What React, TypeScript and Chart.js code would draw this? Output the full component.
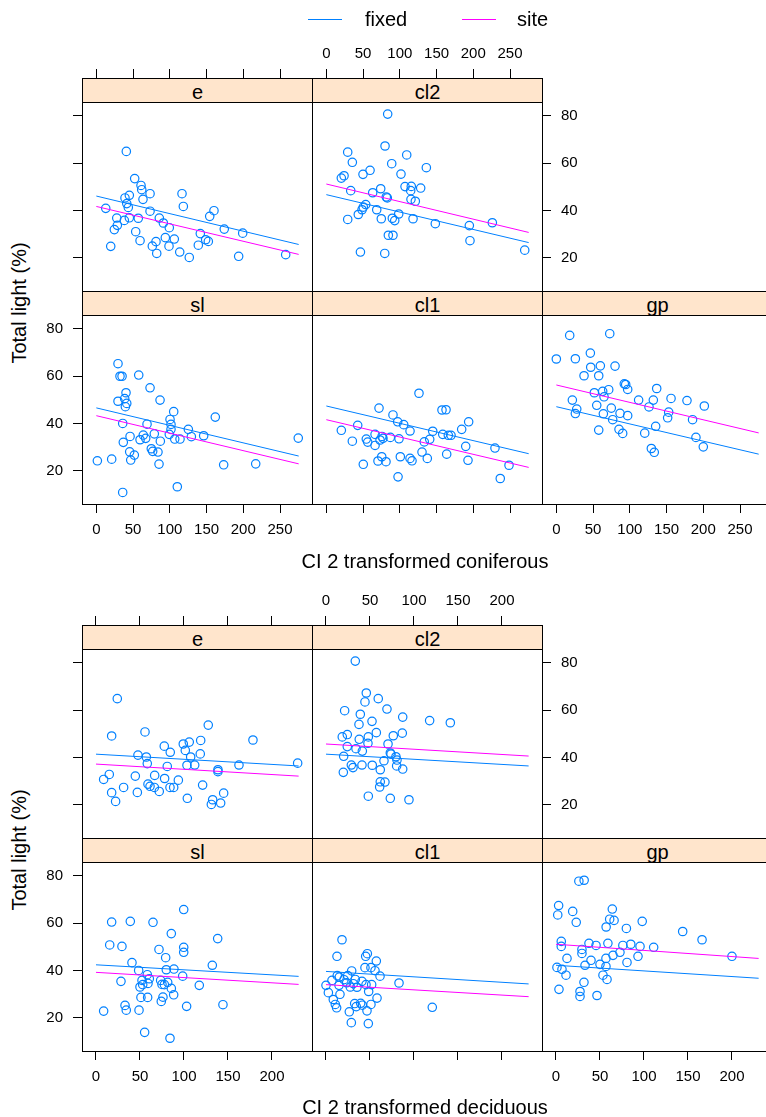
import React, { useEffect, useRef } from "react";
import { Chart, registerables } from "chart.js";

Chart.register(...registerables);

const FONT = '"Liberation Sans", Arial, Helvetica, sans-serif';
const POINT_BLUE = "#0080ff";
const SITE_PINK = "#ff00ff";
const STRIP_BG = "#ffe5cc";

type Pair = [number, number];
type AxisMode = "none" | "ticks" | "labels";

// ---------- axis values ----------
const totalLightTicks = [20, 40, 60, 80];
const coniferTicks = [0, 50, 100, 150, 200, 250];
const deciduousTicks = [0, 50, 100, 150, 200];
const panelNames = ["e", "cl2", "sl", "cl1", "gp"];

// ---------- fitted lines (start/end value per panel, order as panelNames) ----------
const coniferLineX = [0, 275.4];
const coniferFixedStart = [46.1, 46.7, 46.6, 47.4, 47.1];
const coniferFixedEnd = [25.6, 26.4, 26.2, 27.2, 27.0];
const coniferSiteStart = [41.7, 51.2, 43.3, 41.6, 56.3];
const coniferSiteEnd = [21.4, 30.7, 22.9, 21.4, 36.0];

const deciduousLineX = [0, 230.3];
const deciduousFixedStart = [41.4, 41.4, 42.4, 39.6, 42.2];
const deciduousFixedEnd = [36.4, 36.4, 37.5, 34.3, 36.7];
const deciduousSiteStart = [37.2, 45.7, 39.2, 34.0, 51.1];
const deciduousSiteEnd = [32.1, 40.6, 34.1, 28.9, 45.1];

// ---------- observations: CI 2 transformed coniferous vs total light ----------
const coniferE: Pair[] = [
  [40.8, 65.0], [52.2, 53.5], [60.8, 50.6], [61.8, 48.8], [73.1, 47.1], [44.9, 46.4],
  [39.0, 45.3], [63.5, 44.7], [116.6, 47.1], [41.4, 42.9], [43.5, 41.3], [12.8, 40.9],
  [118.4, 41.7], [73.1, 39.7], [160.1, 39.9], [154.3, 37.5], [44.9, 36.9], [27.8, 36.8],
  [38.1, 35.8], [57.1, 36.7], [85.7, 36.8], [91.2, 34.7], [99.3, 32.7], [28.6, 33.7],
  [24.5, 31.9], [53.6, 31.0], [174.1, 32.1], [199.2, 30.4], [141.5, 30.2], [93.9, 28.5],
  [106.1, 27.9], [59.5, 27.2], [148.8, 27.6], [152.4, 26.9], [81.2, 26.8], [19.6, 24.8],
  [76.2, 24.9], [98.9, 24.9], [138.8, 25.3], [82.2, 21.8], [113.5, 22.4], [126.5, 20.1],
  [193.7, 20.6], [257.7, 21.3],
];
const coniferCl2: Pair[] = [
  [83.5, 80.8], [79.9, 67.3], [29.1, 64.7], [109.4, 63.5], [35.4, 60.4], [89.0, 59.8],
  [136.1, 58.1], [59.5, 57.0], [49.9, 55.3], [101.6, 55.4], [24.1, 54.7], [20.4, 53.7],
  [74.0, 49.2], [107.1, 50.1], [115.6, 50.2], [128.4, 49.5], [114.8, 48.4], [33.2, 48.4],
  [63.1, 47.5], [81.6, 45.7], [83.0, 45.3], [115.2, 44.7], [121.1, 43.9], [53.6, 42.5],
  [50.3, 41.4], [48.6, 40.3], [68.6, 40.3], [43.5, 38.3], [98.5, 38.5], [74.8, 36.5],
  [89.8, 36.7], [93.1, 35.7], [118.0, 36.5], [29.1, 36.2], [148.3, 34.4], [194.6, 33.6],
  [225.9, 34.8], [84.4, 29.5], [90.7, 29.5], [195.5, 27.2], [46.4, 22.4], [79.5, 21.8],
  [270.0, 23.2],
];
const coniferSl: Pair[] = [
  [29.5, 65.3], [32.2, 60.0], [35.0, 60.0], [57.7, 60.5], [73.1, 55.1], [40.4, 53.0],
  [38.6, 50.5], [29.5, 49.4], [86.7, 49.9], [41.4, 48.5], [39.5, 47.1], [105.3, 45.0],
  [161.9, 42.7], [100.3, 41.7], [35.9, 40.0], [69.0, 39.7], [101.6, 39.6], [101.6, 37.5],
  [125.2, 37.5], [78.9, 35.6], [99.3, 35.4], [45.9, 34.5], [63.9, 35.1], [146.1, 34.8],
  [129.3, 34.4], [274.8, 33.8], [67.2, 33.7], [59.5, 33.1], [106.7, 33.4], [113.9, 33.4],
  [36.7, 32.0], [87.1, 32.5], [74.8, 29.3], [76.7, 28.2], [83.9, 27.9], [45.4, 28.0],
  [51.7, 26.6], [46.8, 24.5], [1.4, 24.2], [20.9, 24.9], [85.3, 22.8], [173.3, 22.5],
  [216.9, 22.9], [110.2, 13.2], [35.9, 10.8],
];
const coniferCl1: Pair[] = [
  [126.1, 52.8], [71.7, 46.5], [157.4, 45.7], [162.9, 45.8], [90.7, 43.6], [193.7, 40.7],
  [97.1, 40.7], [105.3, 39.5], [42.7, 39.2], [184.2, 37.5], [20.4, 37.1], [113.9, 36.8],
  [144.8, 36.7], [158.4, 35.4], [169.7, 35.0], [166.0, 35.0], [66.3, 35.4], [75.8, 34.5],
  [87.1, 34.1], [77.1, 33.7], [98.9, 33.5], [54.4, 33.4], [73.1, 33.0], [140.7, 33.3],
  [35.4, 32.5], [56.3, 32.1], [133.3, 32.2], [66.3, 30.7], [189.7, 30.3], [229.5, 29.6],
  [130.2, 27.9], [163.8, 27.0], [75.4, 25.9], [100.7, 25.9], [113.9, 25.2], [137.4, 25.2],
  [116.6, 24.2], [70.3, 24.1], [81.2, 23.8], [192.8, 24.4], [50.3, 22.7], [248.6, 22.3],
  [97.6, 17.4], [236.7, 16.7],
];
const coniferGp: Pair[] = [
  [18.2, 77.3], [72.7, 78.0], [0.0, 67.3], [25.9, 67.4], [46.3, 69.8], [46.8, 63.8],
  [59.9, 64.4], [79.9, 64.3], [37.7, 60.2], [57.7, 60.2], [92.5, 56.8], [94.4, 56.5],
  [97.1, 54.4], [136.6, 54.8], [71.3, 54.3], [63.1, 53.6], [51.7, 53.0], [64.9, 51.3],
  [156.1, 50.6], [177.8, 49.7], [112.0, 49.9], [132.0, 49.9], [21.8, 49.9], [55.0, 47.7],
  [201.4, 47.4], [126.1, 47.0], [74.8, 46.5], [27.8, 46.1], [25.9, 44.2], [152.9, 44.8],
  [86.7, 44.3], [64.0, 44.1], [97.1, 43.3], [151.5, 42.4], [76.7, 41.6], [185.4, 41.6],
  [135.2, 38.8], [57.7, 37.2], [85.3, 37.5], [90.3, 35.8], [120.3, 35.9], [190.0, 34.1],
  [200.0, 30.1], [129.3, 29.4], [133.3, 27.8],
];

// ---------- observations: CI 2 transformed deciduous vs total light ----------
const deciduousE: Pair[] = [
  [24.2, 64.9], [127.6, 53.7], [55.7, 50.8], [17.8, 49.1], [178.4, 47.4], [119.0, 47.2],
  [106.0, 46.5], [99.2, 45.7], [77.6, 44.8], [101.5, 43.0], [84.4, 42.2], [118.5, 41.5],
  [47.7, 41.0], [57.2, 40.2], [107.6, 40.2], [58.3, 37.4], [229.2, 37.6], [162.5, 36.8],
  [103.4, 36.7], [112.2, 36.8], [81.0, 36.2], [138.6, 34.8], [138.6, 34.0], [15.1, 32.8],
  [8.7, 30.7], [44.7, 32.1], [66.7, 32.4], [78.0, 31.1], [93.6, 30.4], [59.1, 28.7],
  [61.4, 27.8], [66.3, 27.3], [71.9, 25.6], [84.1, 27.3], [88.3, 27.3], [31.4, 27.3],
  [121.2, 28.3], [17.8, 25.1], [47.0, 25.2], [145.1, 24.9], [22.3, 21.4], [103.8, 22.7],
  [132.6, 22.1], [131.1, 20.1], [141.7, 20.7],
];
const deciduousCl2: Pair[] = [
  [33.3, 80.8], [45.8, 67.3], [44.3, 63.5], [59.4, 64.9], [21.2, 59.8], [69.3, 60.5],
  [39.0, 58.3], [87.2, 57.1], [117.8, 55.6], [141.3, 54.7], [52.3, 55.3], [37.5, 54.0],
  [57.2, 50.5], [86.7, 50.3], [76.5, 49.2], [24.2, 49.7], [18.5, 48.7], [48.1, 48.7],
  [37.8, 47.7], [47.7, 46.0], [70.5, 45.7], [24.2, 44.6], [34.1, 43.7], [41.3, 42.7],
  [73.1, 41.9], [73.9, 41.4], [20.1, 40.5], [79.5, 40.3], [65.9, 38.6], [80.7, 38.9],
  [28.8, 36.8], [40.9, 36.8], [52.6, 36.7], [80.3, 36.4], [30.7, 35.7], [61.7, 34.8],
  [87.2, 35.1], [19.7, 33.7], [61.7, 29.7], [67.0, 29.6], [61.0, 27.5], [48.1, 23.6],
  [73.1, 22.7], [94.3, 22.1],
];
const deciduousSl: Pair[] = [
  [99.7, 65.8], [17.8, 60.5], [39.0, 60.8], [64.8, 60.4], [85.6, 55.6], [138.3, 53.5],
  [15.6, 50.8], [29.5, 50.2], [71.6, 48.9], [99.7, 49.8], [99.7, 47.7], [79.2, 45.4],
  [132.2, 42.2], [40.9, 43.3], [48.5, 40.0], [79.9, 40.3], [88.6, 40.6], [58.3, 38.2],
  [98.5, 37.6], [28.4, 35.4], [52.3, 35.8], [60.6, 36.5], [73.5, 35.8], [59.1, 34.5],
  [53.1, 34.0], [75.0, 34.1], [81.5, 35.0], [77.7, 34.0], [50.0, 33.0], [117.4, 33.7],
  [85.6, 32.4], [88.3, 29.7], [51.1, 28.6], [58.7, 28.6], [76.1, 28.7], [74.2, 26.9],
  [33.0, 25.2], [34.4, 23.2], [8.7, 22.8], [48.9, 23.2], [103.0, 24.8], [144.3, 25.5],
  [55.3, 13.8], [84.1, 11.3],
];
const deciduousCl1: Pair[] = [
  [18.2, 53.0], [12.5, 46.0], [47.0, 47.1], [45.1, 46.0], [57.2, 44.0], [44.3, 41.2],
  [51.1, 41.2], [55.7, 39.9], [29.2, 39.8], [61.4, 37.6], [24.7, 37.8], [12.8, 37.8],
  [15.1, 37.2], [20.5, 36.1], [6.8, 35.8], [33.3, 36.2], [40.9, 35.4], [23.5, 34.8],
  [83.0, 34.7], [0.0, 33.7], [14.8, 33.7], [27.6, 33.0], [31.0, 34.4], [35.2, 32.9],
  [45.5, 34.0], [51.9, 34.0], [48.5, 31.1], [2.7, 30.6], [15.9, 29.9], [58.0, 28.3],
  [8.3, 27.7], [10.6, 25.6], [12.1, 24.2], [32.6, 26.0], [39.4, 26.1], [34.4, 24.7],
  [41.3, 25.3], [51.1, 25.6], [26.5, 22.5], [46.6, 22.9], [120.8, 24.4], [28.8, 17.9],
  [48.1, 17.5],
];
const deciduousGp: Pair[] = [
  [26.0, 77.8], [32.0, 78.2], [3.0, 67.5], [64.0, 66.0], [2.0, 63.5], [19.0, 65.0],
  [61.0, 61.7], [23.0, 60.4], [57.0, 58.4], [66.0, 61.2], [80.0, 57.8], [98.0, 60.8],
  [144.0, 56.5], [166.0, 53.0], [6.0, 52.3], [6.0, 50.2], [37.5, 51.5], [45.5, 50.6],
  [59.0, 51.5], [76.0, 50.6], [85.0, 51.1], [95.5, 50.2], [111.0, 49.8], [29.5, 47.2],
  [72.7, 47.7], [29.5, 48.9], [12.5, 45.1], [39.8, 44.3], [56.8, 45.1], [64.8, 46.4],
  [93.2, 46.0], [50.0, 42.6], [80.7, 43.4], [1.1, 41.3], [6.8, 40.5], [33.0, 42.2],
  [56.8, 41.7], [11.4, 38.0], [53.4, 38.0], [58.0, 36.2], [31.8, 35.0], [3.4, 32.0],
  [27.3, 31.1], [27.3, 29.0], [46.6, 29.4], [200.0, 46.0],
];

// ---------- layout ----------
const M = 50; // margin around each plotting region reserved for axes
const PANEL_W = 230;
const PANEL_H = 213; // strip + plotting region
const STRIP_H = 24;
const COL_LEFT = [82, 312, 542];
const Y_MIN = 5.9;
const Y_MAX = 96.09;
const TICK_FONT = 15;

const panelGrid = [
  { row: 0, col: 0, axes: { left: "ticks", top: "ticks", right: "none", bottom: "none" } },
  { row: 0, col: 1, axes: { left: "none", top: "labels", right: "labels", bottom: "none" } },
  { row: 1, col: 0, axes: { left: "labels", top: "none", right: "none", bottom: "labels" } },
  { row: 1, col: 1, axes: { left: "none", top: "none", right: "none", bottom: "ticks" } },
  { row: 1, col: 2, axes: { left: "none", top: "none", right: "ticks", bottom: "labels" } },
] as { row: number; col: number; axes: Record<string, AxisMode> }[];

const figures = [
  {
    key: "conifer",
    rowTops: [78, 291],
    xMin: -19.5,
    xMax: 293.5,
    xTicks: coniferTicks,
    lineX: coniferLineX,
    points: [coniferE, coniferCl2, coniferSl, coniferCl1, coniferGp],
    fixedStart: coniferFixedStart,
    fixedEnd: coniferFixedEnd,
    siteStart: coniferSiteStart,
    siteEnd: coniferSiteEnd,
    xLabel: "CI 2 transformed coniferous",
    xLabelBaseline: 568,
    yLabelCenter: 303,
  },
  {
    key: "deciduous",
    rowTops: [625, 838],
    xMin: -15.9,
    xMax: 245.5,
    xTicks: deciduousTicks,
    lineX: deciduousLineX,
    points: [deciduousE, deciduousCl2, deciduousSl, deciduousCl1, deciduousGp],
    fixedStart: deciduousFixedStart,
    fixedEnd: deciduousFixedEnd,
    siteStart: deciduousSiteStart,
    siteEnd: deciduousSiteEnd,
    xLabel: "CI 2 transformed deciduous",
    xLabelBaseline: 1114,
    yLabelCenter: 850,
  },
];

interface PanelProps {
  left: number;
  top: number;
  xMin: number;
  xMax: number;
  xTicks: number[];
  lineX: number[];
  points: Pair[];
  fixed: number[];
  site: number[];
  axes: Record<string, AxisMode>;
}

function makeAxis(
  mode: AxisMode,
  position: "top" | "bottom" | "left" | "right",
  min: number,
  max: number,
  values: number[],
  padding: number
) {
  const horizontal = position === "top" || position === "bottom";
  return {
    type: "linear" as const,
    position,
    min,
    max,
    afterBuildTicks: (scale: any) => {
      scale.ticks = values.map((v) => ({ value: v }));
    },
    afterFit: (scale: any) => {
      if (horizontal) scale.height = M;
      else scale.width = M;
    },
    grid: {
      display: true,
      drawOnChartArea: false,
      drawTicks: mode !== "none",
      tickLength: 9,
      tickColor: "#000",
      tickWidth: 1,
      color: "#000",
    },
    border: { display: true, color: "#000", width: 1 },
    ticks: {
      display: mode === "labels",
      color: "#000",
      font: { family: FONT, size: TICK_FONT },
      padding,
      autoSkip: false,
      maxRotation: 0,
      minRotation: 0,
    },
  };
}

function PanelChart(props: PanelProps) {
  const ref = useRef<HTMLCanvasElement | null>(null);
  useEffect(() => {
    if (!ref.current) return;
    const { xMin, xMax, xTicks, lineX, points, fixed, site, axes } = props;
    const chart = new Chart(ref.current, {
      type: "scatter",
      data: {
        datasets: [
          {
            label: "fixed",
            data: [
              { x: lineX[0], y: fixed[0] },
              { x: lineX[1], y: fixed[1] },
            ],
            showLine: true,
            borderColor: POINT_BLUE,
            borderWidth: 1,
            pointRadius: 0,
            fill: false,
          },
          {
            label: "site",
            data: [
              { x: lineX[0], y: site[0] },
              { x: lineX[1], y: site[1] },
            ],
            showLine: true,
            borderColor: SITE_PINK,
            borderWidth: 1,
            pointRadius: 0,
            fill: false,
          },
          {
            label: "observed",
            data: points.map(([x, y]) => ({ x, y })),
            showLine: false,
            pointRadius: 4.2,
            pointStyle: "circle",
            borderColor: POINT_BLUE,
            backgroundColor: "rgba(0,0,0,0)",
            borderWidth: 1.2,
          },
        ],
      },
      options: {
        animation: false,
        responsive: false,
        events: [],
        layout: { padding: 0 },
        plugins: {
          legend: { display: false },
          tooltip: { enabled: false },
          title: { display: false },
        },
        scales: {
          x: makeAxis(axes.bottom, "bottom", xMin, xMax, xTicks, 8),
          x2: makeAxis(axes.top, "top", xMin, xMax, xTicks, 6),
          y: makeAxis(axes.left, "left", Y_MIN, Y_MAX, totalLightTicks, 10),
          y2: makeAxis(axes.right, "right", Y_MIN, Y_MAX, totalLightTicks, 10),
        },
      } as any,
    });
    return () => chart.destroy();
  }, []);
  return (
    <canvas
      ref={ref}
      width={PANEL_W + 2 * M}
      height={PANEL_H + 2 * M}
      style={{ position: "absolute", left: props.left - M, top: props.top - M }}
    />
  );
}

const textBase: React.CSSProperties = {
  position: "absolute",
  fontFamily: FONT,
  fontSize: 20,
  lineHeight: "22px",
  color: "#000",
  whiteSpace: "nowrap",
};

export default function App() {
  return (
    <div
      style={{
        position: "absolute",
        left: 0,
        top: 0,
        width: 766,
        height: 1117,
        overflow: "hidden",
        background: "#fff",
      }}
    >
      {figures.map((fig) =>
        panelGrid.map((p, i) => (
          <PanelChart
            key={`${fig.key}-${panelNames[i]}`}
            left={COL_LEFT[p.col]}
            top={fig.rowTops[p.row]}
            xMin={fig.xMin}
            xMax={fig.xMax}
            xTicks={fig.xTicks}
            lineX={fig.lineX}
            points={fig.points[i]}
            fixed={[fig.fixedStart[i], fig.fixedEnd[i]]}
            site={[fig.siteStart[i], fig.siteEnd[i]]}
            axes={p.axes}
          />
        ))
      )}
      {figures.map((fig) =>
        panelGrid.map((p, i) => (
          <div
            key={`strip-${fig.key}-${panelNames[i]}`}
            style={{
              position: "absolute",
              left: COL_LEFT[p.col],
              top: fig.rowTops[p.row],
              width: PANEL_W + 1,
              height: STRIP_H + 1,
              boxSizing: "border-box",
              border: "1px solid #000",
              background: STRIP_BG,
              fontFamily: FONT,
              fontSize: 20,
              lineHeight: "26px",
              textAlign: "center",
              color: "#000",
            }}
          >
            {panelNames[i]}
          </div>
        ))
      )}
      {figures.map((fig) => (
        <React.Fragment key={`labels-${fig.key}`}>
          <div
            style={{
              ...textBase,
              left: 425 - 200,
              width: 400,
              textAlign: "center",
              top: fig.xLabelBaseline - 18,
            }}
          >
            {fig.xLabel}
          </div>
          <div
            style={{
              ...textBase,
              left: 18.6 - 100,
              top: fig.yLabelCenter - 11,
              width: 200,
              height: 22,
              textAlign: "center",
              transform: "rotate(-90deg)",
            }}
          >
            Total light (%)
          </div>
        </React.Fragment>
      ))}
      {/* key */}
      <div style={{ position: "absolute", left: 308, top: 19, width: 34, height: 1, background: POINT_BLUE }} />
      <div style={{ ...textBase, left: 365, top: 8 }}>fixed</div>
      <div style={{ position: "absolute", left: 462, top: 19, width: 34, height: 1, background: SITE_PINK }} />
      <div style={{ ...textBase, left: 517, top: 8 }}>site</div>
    </div>
  );
}
